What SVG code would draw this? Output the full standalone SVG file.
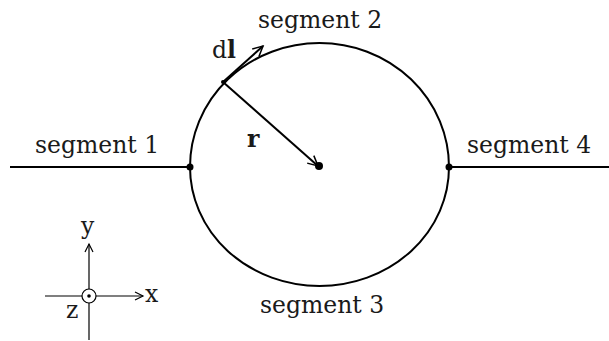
<svg xmlns="http://www.w3.org/2000/svg" width="609" height="341" viewBox="0 0 609 341">
<style>
.ln{fill:none;stroke:#000;stroke-width:2}
.ax{fill:none;stroke:#000;stroke-width:1.2}
.t{font-family:"DejaVu Serif",serif;font-size:23.5px;fill:#1a1a1a}
.b{font-weight:bold}
</style>
<defs>
<marker id="oa" markerWidth="14" markerHeight="14" refX="12" refY="7" orient="auto" markerUnits="userSpaceOnUse">
<path d="M2,2 L12,7 L2,12" fill="none" stroke="#000" stroke-width="1.5"/>
</marker>
<marker id="oa2" markerWidth="12" markerHeight="12" refX="10" refY="6" orient="auto" markerUnits="userSpaceOnUse">
<path d="M2,2 L10,6 L2,10" fill="none" stroke="#000" stroke-width="1.2"/>
</marker>
</defs>
<rect width="609" height="341" fill="#fff"/>
<g id="connectors">
<line class="ln" x1="10" y1="167" x2="190" y2="167"/>
<line class="ln" x1="449" y1="167" x2="609" y2="167"/>
<path class="ln" d="M190,167 A129.5,124 0 0 1 449,167"/>
<path class="ln" d="M190,167 A129.5,119 0 0 0 449,167"/>
<line class="ln" x1="223" y1="82" x2="263" y2="46" marker-end="url(#oa)"/>
<line class="ln" x1="223" y1="82" x2="318" y2="166" marker-end="url(#oa)"/>
</g>
<g id="junctions">
<circle cx="190" cy="167" r="3.5"/>
<circle cx="449" cy="167" r="3.5"/>
<circle cx="319" cy="166" r="4"/>
<circle cx="223" cy="82" r="2"/>
</g>
<g id="labels">
<text class="t" x="258" y="28">segment 2</text>
<text class="t" x="35" y="153">segment 1</text>
<text class="t" x="467" y="153">segment 4</text>
<text class="t" x="260" y="313">segment 3</text>
<text class="t" x="212" y="58">d<tspan class="b">l</tspan></text>
<text class="t b" x="247" y="147">r</text>
</g>
<g id="axes">
<line class="ax" x1="89" y1="340" x2="89" y2="244" marker-end="url(#oa2)"/>
<line class="ax" x1="45" y1="296" x2="143" y2="296" marker-end="url(#oa2)"/>
<circle cx="89" cy="296" r="7" fill="#fff" stroke="#000" stroke-width="1.2"/>
<circle cx="89" cy="296" r="1.8"/>
<text class="t" x="81" y="234">y</text>
<text class="t" x="145" y="302">x</text>
<text class="t" x="66" y="318">z</text>
</g>
</svg>
